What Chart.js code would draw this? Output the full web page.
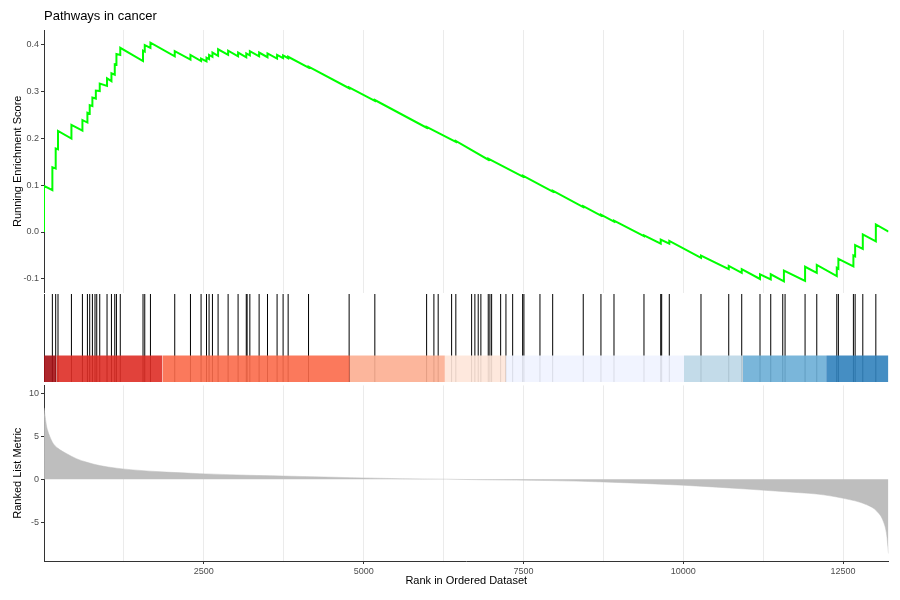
<!DOCTYPE html>
<html>
<head>
<meta charset="utf-8">
<title>Pathways in cancer</title>
<script src="https://cdn.jsdelivr.net/npm/chart.js@4.4.1/dist/chart.umd.min.js"></script>
<style>
  html, body { margin: 0; padding: 0; background: #fff; }
  #wrap { position: relative; width: 900px; height: 600px; overflow: hidden; }
  #wrap canvas { position: absolute; left: 0; }
</style>
</head>
<body>
<div id="wrap">
  <canvas id="esChart" width="900" height="300" style="top:0px"></canvas>
  <canvas id="hitChart" width="900" height="88" style="top:294px"></canvas>
  <canvas id="rankChart" width="900" height="222" style="top:378px"></canvas>
</div>
<script>
// ---- data ----
const N_GENES = 13210;

// running enrichment score: vertices of the step curve (rank, score)
const esRank = [0, 0, 131, 131, 183, 183, 219, 219, 429, 429, 601, 601, 679, 679, 715, 715,
  757, 757, 811, 811, 872, 872, 986, 986, 1055, 1055, 1107, 1107, 1133, 1133, 1193, 1193,
  1549, 1549, 1576, 1576, 1665, 1665, 2045, 2045, 2291, 2291, 2457, 2457, 2542, 2542,
  2582, 2582, 2635, 2635, 2723, 2723, 2880, 2880, 3036, 3036, 3164, 3164, 3220, 3220,
  3365, 3365, 3496, 3496, 3646, 3646, 3740, 3740, 3819, 3819, 4138, 4138, 4773, 4773,
  5175, 5175, 5985, 5985, 6442, 6442, 6949, 6949, 7490, 7490, 7957, 7957, 8435, 8435,
  8712, 8712, 8916, 8916, 9385, 9385, 9647, 9647, 9781, 9781, 10277, 10277, 10711, 10711,
  10914, 10914, 11200, 11200, 11368, 11368, 11574, 11574, 11905, 11905, 12088, 12088,
  12401, 12401, 12426, 12426, 12661, 12661, 12688, 12688, 12808, 12808, 13012, 13012, 13210];
const esScore = [0.000, 0.098, 0.089, 0.138, 0.135, 0.178, 0.176, 0.215, 0.199, 0.228, 0.216, 0.238, 0.233, 0.254, 0.252, 0.270,
  0.268, 0.286, 0.284, 0.301, 0.300, 0.316, 0.311, 0.327, 0.321, 0.338, 0.335, 0.357, 0.356, 0.379, 0.377, 0.392,
  0.364, 0.386, 0.384, 0.398, 0.392, 0.403, 0.374, 0.385, 0.367, 0.377, 0.364, 0.369, 0.363, 0.371,
  0.368, 0.377, 0.373, 0.382, 0.375, 0.389, 0.377, 0.386, 0.374, 0.382, 0.372, 0.380, 0.376, 0.385,
  0.374, 0.382, 0.372, 0.380, 0.369, 0.377, 0.370, 0.376, 0.370, 0.373, 0.350, 0.352, 0.306, 0.308,
  0.279, 0.281, 0.222, 0.224, 0.192, 0.194, 0.154, 0.156, 0.118, 0.120, 0.086, 0.088, 0.053, 0.055,
  0.035, 0.037, 0.022, 0.024, -0.009, -0.007, -0.025, -0.016, -0.025, -0.019, -0.055, -0.050, -0.079, -0.072,
  -0.087, -0.079, -0.100, -0.090, -0.101, -0.090, -0.105, -0.082, -0.104, -0.074, -0.087, -0.070,
  -0.094, -0.076, -0.078, -0.057, -0.073, -0.050, -0.052, -0.028, -0.036, -0.005, -0.020, 0.016, 0.001];

// positions of the gene set members in the ranked list
const hitRanks = [5, 131, 183, 219, 429, 601, 679, 715, 757, 798, 825, 872, 986, 1055, 1107, 1133, 1193,
  1549, 1576, 1665, 2045, 2291, 2457, 2542, 2582, 2635, 2723, 2880, 3036, 3164, 3177, 3220,
  3365, 3496, 3646, 3740, 3819, 4138, 4773, 5175, 5985, 6099, 6166, 6376, 6442, 6689, 6740,
  6792, 6834, 6949, 6975, 7002, 7143, 7226, 7331, 7487, 7507, 7758, 7957, 8435, 8712, 8916,
  9385, 9647, 9662, 9781, 10277, 10711, 10914, 11200, 11368, 11556, 11592, 11905, 12088,
  12401, 12426, 12661, 12688, 12808, 13012];

// colour band under the hits
const bandEdges = [0, 194, 1853, 4784, 6271, 7226, 10011, 10930, 12234, 13210];
const bandColors = ['#A50F15', '#DE2D26', '#FB6A4A', '#FCAE91', '#FEE5D9', '#EFF3FF', '#BDD7E7', '#6BAED6', '#3182BD'];

// ranked list metric
const metricRank = [1, 20, 37, 60, 89, 141, 219, 350, 507, 663, 872, 1133, 1393, 1915, 2437, 3219, 4002,
  4784, 5567, 6300, 6870, 7914, 8748, 10000, 11044, 11826, 12088, 12504, 12870, 13028, 13130, 13183, 13200, 13210];
const metricValue = [8.3, 7.2, 6.3, 5.6, 5.0, 4.2, 3.6, 3.0, 2.4, 2.0, 1.6, 1.3, 1.1, 0.84, 0.66, 0.47, 0.34,
  0.2, 0.08, 0.02, -0.05, -0.14, -0.3, -0.68, -1.15, -1.55, -1.7, -2.2, -2.95, -3.7, -4.9, -6.5, -7.8, -8.6];

// x ticks: grid every 1250, labels every 2500
const xGridTicks = [1250, 2500, 3750, 5000, 6250, 7500, 8750, 10000, 11250, 12500];
const xLabelTicks = [2500, 5000, 7500, 10000, 12500];

// ---- shared styling ----
const FONT = "'Liberation Sans', Arial, sans-serif";
Chart.defaults.font.family = FONT;
Chart.defaults.animation = false;
Chart.defaults.responsive = false;
Chart.defaults.devicePixelRatio = 1;
Chart.defaults.events = [];
Chart.defaults.plugins.legend.display = false;
Chart.defaults.plugins.tooltip.enabled = false;

const AXIS = '#333333';
const TICK_TXT = '#4d4d4d';
const GRID = '#ebebeb';
const LEFT_W = 44;
const RIGHT_PAD = 11.5;

function fixedWidth(s) { s.width = LEFT_W; }
function setXTicks(s) { s.ticks = xGridTicks.map(v => ({ value: v })); }
const isLabelled = v => xLabelTicks.includes(v);

// ---- top panel: running enrichment score ----
const esPoints = esRank.map((r, i) => ({ x: r, y: esScore[i] }));

new Chart(document.getElementById('esChart'), {
  type: 'line',
  data: {
    datasets: [{
      data: esPoints,
      borderColor: '#00ff00', borderWidth: 2,
      pointRadius: 0, tension: 0, fill: false
    }]
  },
  options: {
    layout: { padding: { left: 0, right: RIGHT_PAD, top: 0, bottom: 0 } },
    plugins: {
      title: {
        display: true, text: 'Pathways in cancer', align: 'start', fullSize: false,
        color: '#000', font: { size: 13, weight: 'normal' },
        padding: { top: 9, bottom: 5.4 }
      }
    },
    scales: {
      x: {
        type: 'linear', min: 0, max: N_GENES,
        afterBuildTicks: setXTicks,
        grid: { color: GRID, lineWidth: 1, drawTicks: false },
        border: { display: false },
        ticks: { display: false },
        afterFit: s => { s.height = 0; }
      },
      y: {
        min: -0.129, max: 0.43,
        afterFit: fixedWidth,
        border: { color: AXIS, width: 1 },
        grid: { drawOnChartArea: false, tickLength: 3, tickColor: AXIS },
        ticks: {
          stepSize: 0.1, includeBounds: false, padding: 2, color: TICK_TXT,
          font: { size: 9 },
          callback: v => Math.abs(v) < 1e-9 ? '0.0' : v.toFixed(1)
        },
        title: {
          display: true, text: 'Running Enrichment Score', color: '#000',
          font: { size: 11 }, padding: { top: 11, bottom: 0 }
        }
      }
    }
  }
});

// ---- middle panel: hits + colour band ----
const hitPoints = [];
hitRanks.forEach(r => {
  hitPoints.push({ x: r, y: 0 }, { x: r, y: 1 }, { x: r, y: null });
});

const BAND_TOP = 0.3;
const bandSets = bandColors.map((c, i) => ({
  data: [{ x: bandEdges[i], y: BAND_TOP }, { x: bandEdges[i + 1], y: BAND_TOP }],
  borderWidth: 0, pointRadius: 0, tension: 0,
  backgroundColor: c + 'E6', fill: 'origin'
}));

new Chart(document.getElementById('hitChart'), {
  type: 'line',
  data: {
    datasets: [
      ...bandSets,
      {
        data: hitPoints, borderColor: '#000', borderWidth: 1,
        pointRadius: 0, spanGaps: false, fill: false
      }
    ]
  },
  options: {
    layout: { padding: { left: LEFT_W, right: RIGHT_PAD, top: 0, bottom: 0 } },
    scales: {
      x: { type: 'linear', min: 0, max: N_GENES, display: false },
      y: { min: 0, max: 1, display: false }
    }
  }
});

// ---- bottom panel: ranked list metric ----
const metricPoints = metricRank.map((r, i) => ({ x: r, y: metricValue[i] }));

new Chart(document.getElementById('rankChart'), {
  type: 'line',
  data: {
    datasets: [{
      data: metricPoints,
      borderColor: '#bebebe', borderWidth: 0.5,
      backgroundColor: '#bebebe', fill: 'origin',
      pointRadius: 0, cubicInterpolationMode: 'monotone'
    }]
  },
  options: {
    layout: { padding: { left: 0, right: RIGHT_PAD, top: 0, bottom: 0 } },
    scales: {
      x: {
        type: 'linear', min: 0, max: N_GENES,
        afterBuildTicks: setXTicks,
        afterFit: s => { s.height = 39; },
        border: { color: AXIS, width: 1 },
        grid: {
          color: GRID, lineWidth: 1, tickLength: 3,
          tickColor: c => (c.tick && isLabelled(c.tick.value)) ? AXIS : 'rgba(0,0,0,0)'
        },
        ticks: {
          autoSkip: false, maxRotation: 0,
          padding: 2, color: TICK_TXT, font: { size: 9 },
          callback: v => isLabelled(v) ? String(v) : ''
        },
        title: {
          display: true, text: 'Rank in Ordered Dataset', color: '#000',
          font: { size: 11 }, padding: { top: 0, bottom: 12.4 }
        }
      },
      y: {
        min: -9.47, max: 10.9,
        afterFit: fixedWidth,
        border: { color: AXIS, width: 1 },
        grid: { drawOnChartArea: false, tickLength: 3, tickColor: AXIS },
        ticks: {
          stepSize: 5, includeBounds: false, padding: 2, color: TICK_TXT,
          font: { size: 9 }, callback: v => String(v)
        },
        title: {
          display: true, text: 'Ranked List Metric', color: '#000',
          font: { size: 11 }, padding: { top: 11, bottom: 0 }
        }
      }
    }
  }
});
</script>
</body>
</html>
